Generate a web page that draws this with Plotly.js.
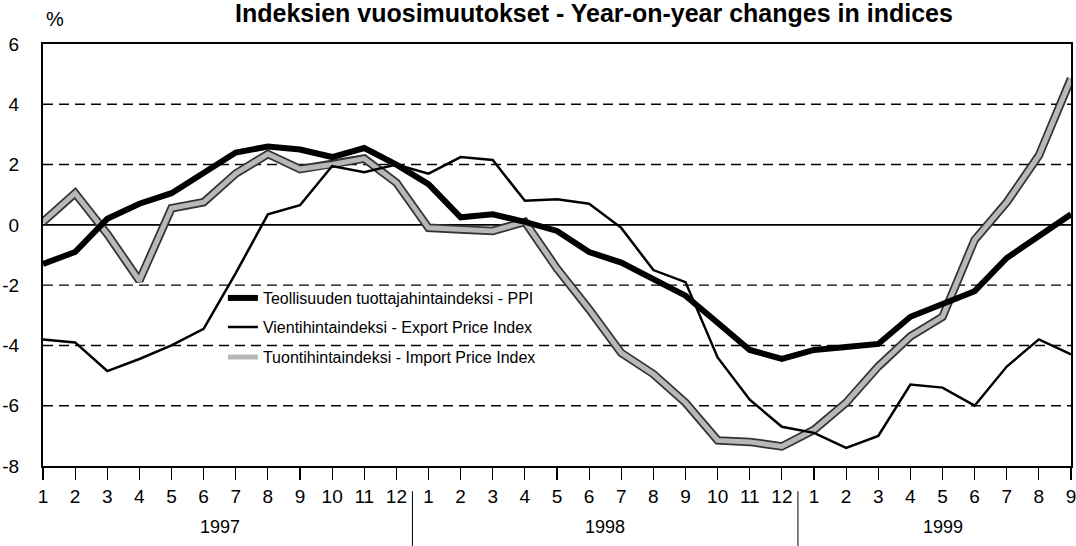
<!DOCTYPE html>
<html>
<head>
<meta charset="utf-8">
<script src="https://cdn.plot.ly/plotly-3.0.1.min.js"></script>
<style>html,body{margin:0;padding:0;background:#fff;}#chart{width:1076px;height:546px;}</style>
</head>
<body>
<div id="chart"></div>
<script>
// Months Jan 1997 .. Sep 1999
var monthLabels = ["1","2","3","4","5","6","7","8","9","10","11","12",
                   "1","2","3","4","5","6","7","8","9","10","11","12",
                   "1","2","3","4","5","6","7","8","9"];
var years = ["1997","1998","1999"];
var yearCenters = [5.5, 17.5, 28];
var yearBreaks = [11.5, 23.5];

var ppi = [-1.3,-0.9,0.2,0.7,1.05,1.75,2.4,2.6,2.5,2.25,2.55,2.0,
           1.35,0.25,0.35,0.1,-0.2,-0.9,-1.25,-1.8,-2.35,-3.25,-4.15,-4.45,
           -4.15,-4.05,-3.95,-3.05,-2.6,-2.2,-1.1,-0.4,0.35];
var exportIdx = [-3.8,-3.9,-4.85,-4.45,-4.0,-3.45,-1.6,0.35,0.65,1.95,1.75,2.0,
                 1.7,2.25,2.15,0.8,0.85,0.7,-0.1,-1.5,-1.9,-4.4,-5.8,-6.7,
                 -6.9,-7.4,-7.0,-5.3,-5.4,-6.0,-4.7,-3.8,-4.3];
var importIdx = [0.1,1.05,-0.3,-1.85,0.55,0.75,1.7,2.35,1.85,2.0,2.2,1.4,
                 -0.1,-0.15,-0.2,0.1,-1.45,-2.8,-4.25,-4.95,-5.9,-7.15,-7.2,-7.35,
                 -6.8,-5.9,-4.7,-3.7,-3.05,-0.5,0.75,2.3,4.85];
var names = ["Teollisuuden tuottajahintaindeksi - PPI",
             "Vientihintaindeksi - Export Price Index",
             "Tuontihintaindeksi - Import Price Index"];
var yTicks = [6,4,2,0,-2,-4,-6,-8];
var yTickText = ["6","4","2","0","-2","-4","-6","-8"];
var gridVals = [4,2,-2,-4,-6];

var xIdx = monthLabels.map(function(_, i){ return i; });
var FONT = "Liberation Sans, Arial, sans-serif";

var traces = [
  {x:xIdx, y:importIdx, mode:'lines', line:{color:'#333', width:8.5}, showlegend:false, hoverinfo:'skip'},
  {x:xIdx, y:importIdx, mode:'lines', name:names[2], legend:'legend3', line:{color:'#b8b8b8', width:5}},
  {x:xIdx, y:exportIdx, mode:'lines', name:names[1], legend:'legend2', line:{color:'#000', width:2.5}},
  {x:xIdx, y:ppi, mode:'lines', name:names[0], legend:'legend', line:{color:'#000', width:6}}
];

var shapes = [];
gridVals.forEach(function(v){
  shapes.push({type:'line', xref:'paper', x0:0, x1:1, yref:'y', y0:v, y1:v,
               line:{color:'#000', width:1.4, dash:'10px,6px'}, layer:'below'});
});
shapes.push({type:'line', xref:'paper', x0:0, x1:1, yref:'y', y0:0, y1:0,
             line:{color:'#000', width:1.8}, layer:'below'});
yearBreaks.forEach(function(b){
  shapes.push({type:'line', xref:'x', x0:b, x1:b, yref:'paper', y0:-0.06, y1:-0.19,
               line:{color:'#000', width:1}});
});

var annotations = [{text:'%', xref:'paper', yref:'paper', x:0.012, y:1.06, xanchor:'center', yanchor:'middle',
                    showarrow:false, font:{family:FONT, size:20, color:'#000'}}];
years.forEach(function(yr, i){
  annotations.push({text:yr, xref:'x', x:yearCenters[i], yref:'paper', y:-0.145, yanchor:'middle',
                    showarrow:false, font:{family:FONT, size:18, color:'#000'}});
});

function legendBox(yc){
  return {x:0.175, y:yc, xanchor:'left', yanchor:'middle', bgcolor:'rgba(0,0,0,0)',
          font:{family:FONT, size:16, color:'#000'}, itemwidth:30};
}

var layout = {
  width:1076, height:546,
  margin:{l:43, r:5, t:44, b:80},
  paper_bgcolor:'#fff', plot_bgcolor:'#fff',
  title:{text:'Indeksien vuosimuutokset - Year-on-year changes in indices',
         font:{family:'Liberation Sans, Arial, sans-serif', size:25, color:'#000', weight:'bold'},
         x:0.552, xanchor:'center', y:0.975, yref:'container', yanchor:'middle'},
  xaxis:{range:[0,32], tickvals:xIdx, ticktext:monthLabels, ticks:'outside', ticklen:12,
         tickcolor:'#000', tickwidth:1.2, showgrid:false, zeroline:false, showline:true, linecolor:'#000', linewidth:2,
         mirror:true, ticklabeloverflow:'allow', tickfont:{family:FONT, size:19, color:'#000'}, fixedrange:true},
  yaxis:{range:[-8,6], tickvals:yTicks, ticktext:yTickText, ticks:'', showgrid:false, zeroline:false,
         showline:true, linecolor:'#000', linewidth:2, mirror:true, ticklabelstandoff:18,
         tickfont:{family:FONT, size:19, color:'#000'}, fixedrange:true},
  legend:legendBox(0.398),
  legend2:legendBox(0.329),
  legend3:legendBox(0.258),
  shapes:shapes,
  annotations:annotations,
  showlegend:true
};

Plotly.newPlot('chart', traces, layout, {staticPlot:true, displayModeBar:false});
</script>
</body>
</html>
